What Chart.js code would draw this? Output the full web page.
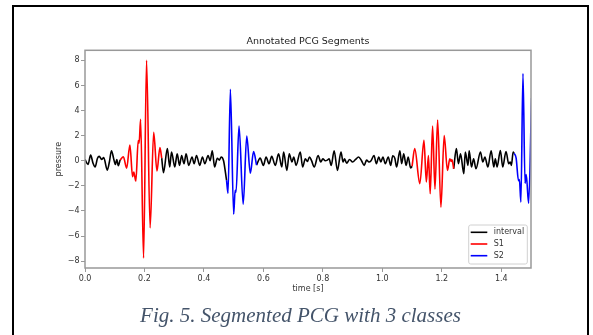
<!DOCTYPE html>
<html>
<head>
<meta charset="utf-8">
<script src="https://cdn.jsdelivr.net/npm/chart.js@4.4.1/dist/chart.umd.min.js"></script>
<style>
  html, body { margin: 0; padding: 0; background: #fff; }
  #wrap { position: relative; width: 593px; height: 335px; overflow: hidden; }
  #frame { position: absolute; left: 12px; top: 5px; width: 573px; height: 340px; border: 2px solid #000; }
  #pcg { position: absolute; left: 0; top: 0; }
  #caption { position: absolute; left: 0; top: 305px; width: 601px; text-align: center;
    font: italic 21px "Liberation Serif", "Times New Roman", serif; line-height: 21px; color: #44546a; }
</style>
</head>
<body>
<div id="wrap">
  <div id="frame"></div>
  <canvas id="pcg" width="593" height="335"></canvas>
  <div id="caption">Fig. 5. Segmented PCG with 3 classes</div>
</div>
<script>
// signal: time [s] and pressure at each turning point
const signalT = [
  0.000,0.010,0.019,0.027,0.034,0.042,0.048,0.056,0.063,0.075,0.082,0.089,0.097,0.102,0.107,0.112,0.118,
  0.129,0.140,0.151,0.160,0.164,0.171,0.179,0.182,0.187,0.197,0.207,0.219,0.231,0.242,0.252,0.258,
  0.264,0.277,0.285,0.291,0.302,0.310,0.318,0.325,0.333,0.340,0.349,0.360,0.367,0.375,0.386,0.395,0.403,0.414,0.421,0.428,0.436,0.445,0.452,0.458,0.466,0.476,
  0.481,0.489,0.500,0.505,0.508,0.518,0.532,0.544,0.556,0.567,0.577,
  0.589,0.600,0.609,0.619,0.628,0.640,0.651,0.662,0.668,0.679,0.687,0.696,0.702,0.710,0.724,0.732,0.741,0.748,
  0.755,0.762,0.771,0.784,0.793,0.800,0.808,0.815,0.821,0.828,0.838,0.849,0.861,0.868,0.873,0.880,0.890,0.900,
  0.910,0.920,0.930,0.939,0.947,0.955,0.962,0.972,0.980,0.988,0.995,1.002,1.010,1.020,1.028,1.035,1.042,1.048,
  1.059,1.065,1.072,1.080,1.087,1.095,1.100,
  1.109,1.126,1.140,1.148,1.155,1.161,1.169,1.177,1.186,1.197,1.208,1.219,1.227,1.231,1.234,1.240,
  1.249,1.256,1.263,1.274,1.279,1.288,1.292,1.300,1.307,1.315,1.330,1.338,1.345,1.355,1.366,1.375,1.380,1.386,
  1.397,1.405,1.416,1.425,1.430,1.434,1.440,1.443,
  1.450,1.458,1.461,1.466,1.473,1.480,1.484,1.492,1.502
];
const signalV = [
  0.10,-0.30,0.45,-0.20,-0.50,0.20,0.35,0.10,0.25,-0.75,-0.10,0.80,0.10,-0.30,0.10,-0.40,0.05,
  0.32,-0.60,1.25,-1.27,-0.90,-1.62,1.60,1.40,3.30,-7.75,8.00,-5.35,2.26,-0.82,1.04,0.20,
  -0.95,0.96,-0.50,0.70,-0.50,0.55,-0.37,0.42,-0.24,0.55,-0.37,0.30,-0.24,0.42,-0.37,0.30,-0.24,0.42,0.00,0.80,-0.50,0.20,0.05,0.30,0.00,-1.55,
  -2.60,5.70,-4.27,-2.35,-2.50,2.76,-3.47,1.97,-1.00,0.73,-0.35,
  0.21,-0.37,0.29,-0.24,0.35,-0.37,0.56,-0.50,0.69,-0.77,0.56,-0.10,0.30,-0.37,0.69,-0.50,0.15,-0.05,
  0.30,0.00,-0.50,0.42,-0.10,0.15,0.00,0.05,0.15,-0.37,0.80,-0.77,0.69,-0.10,0.15,-0.20,0.10,-0.10,
  0.10,0.30,0.00,-0.37,0.05,-0.10,0.00,0.42,-0.24,0.30,-0.10,0.30,-0.24,0.30,-0.37,0.40,0.20,-0.50,
  0.80,-0.24,0.56,-0.37,0.30,-0.58,-0.45,
  0.96,-1.83,1.62,-1.70,0.42,-2.63,2.76,-2.26,3.25,-3.70,2.00,-0.77,0.15,-0.05,0.10,-0.64,
  0.96,-0.24,0.56,-1.03,0.69,-0.37,0.80,-0.50,0.15,-0.64,0.69,-0.10,0.30,-0.50,0.80,-0.50,0.15,-0.50,
  0.82,-0.50,0.74,-0.24,-0.10,-0.37,0.69,0.60,
  0.20,-1.60,-1.50,-3.30,6.95,-1.80,-1.10,-3.40,5.00
];
// segment boundaries (s) and the class of each segment
const segEdges = [0.118, 0.258, 0.476, 0.577, 1.100, 1.240, 1.443];
const segClass = ["interval","S1","interval","S2","interval","S1","interval","S2"];
const classNames = ["interval","S1","S2"];
const classColor = {interval:"#000000", S1:"#ff0000", S2:"#0000ff"};
const xTicks = [0.0,0.2,0.4,0.6,0.8,1.0,1.2,1.4];
const yTicks = [-8,-6,-4,-2,0,2,4,6,8];

const datasets = [];
let lo = -Infinity;
segClass.forEach((cls,i)=>{
  const hi = i < segEdges.length ? segEdges[i] : Infinity;
  const pts = [];
  signalT.forEach((t,k)=>{ if(t>=lo && t<=hi) pts.push({x:t,y:signalV[k]}); });
  datasets.push({label:cls,data:pts,borderColor:classColor[cls],borderWidth:1.6,pointRadius:0,
    cubicInterpolationMode:"monotone",fill:false});
  lo = hi;
});

const axisGrey = "#999999";
const tickFont = {family:"DejaVu Sans",size:8};

const framePlugin = {
  id:"frame",
  afterLayout(chart){
    // centre the title over the axes, like matplotlib does
    const t = chart.titleBlock, a = chart.chartArea;
    if(t){ t.left = a.left; t.right = a.right; }
  },
  afterDraw(chart){
    const {ctx,chartArea:a} = chart;
    ctx.save();
    ctx.strokeStyle = axisGrey;
    ctx.lineWidth = 1.5;
    ctx.strokeRect(a.left,a.top,a.right-a.left,a.bottom-a.top);
    // legend, bottom right inside the axes
    const w = 58.6, h = 39, x0 = a.right-3.7-w, y0 = a.bottom-4-h;
    ctx.fillStyle = "rgba(255,255,255,0.85)";
    ctx.strokeStyle = "#d0d0d0";
    ctx.lineWidth = 1;
    ctx.beginPath();
    ctx.roundRect(x0,y0,w,h,2);
    ctx.fill(); ctx.stroke();
    ctx.font = "8px 'DejaVu Sans'";
    ctx.textBaseline = "middle";
    classNames.forEach((c,i)=>{
      const y = y0+7.3+i*11.7;
      ctx.strokeStyle = classColor[c];
      ctx.lineWidth = 1.6;
      ctx.beginPath(); ctx.moveTo(x0+2,y); ctx.lineTo(x0+18.6,y); ctx.stroke();
      ctx.fillStyle = "#333";
      ctx.fillText(c,x0+25,y);
    });
    ctx.restore();
  }
};

new Chart(document.getElementById("pcg"),{
  type:"line",
  data:{datasets},
  options:{
    responsive:false,
    animation:false,
    layout:{padding:{left:0,right:62,top:0,bottom:37}},
    plugins:{
      legend:{display:false},
      tooltip:{enabled:false},
      title:{display:true,text:"Annotated PCG Segments",color:"#222",
        font:{family:"DejaVu Sans",size:9.5,weight:"normal"},padding:{top:36.3,bottom:2.6}}
    },
    scales:{
      x:{type:"linear",min:0,max:1.5,
        afterBuildTicks:s=>{s.ticks = xTicks.map(v=>({value:v}));},
        afterFit:s=>{s.height = 30;},
        border:{display:false},
        grid:{drawOnChartArea:false,drawTicks:true,tickLength:4,color:axisGrey},
        ticks:{font:tickFont,color:"#333",padding:2,maxRotation:0,callback:v=>v.toFixed(1)},
        title:{display:true,text:"time [s]",color:"#333",font:tickFont,padding:{top:0,bottom:4.2}}
      },
      y:{min:-8.55,max:8.8,
        afterBuildTicks:s=>{s.ticks = yTicks.map(v=>({value:v}));},
        afterFit:s=>{s.width = 85;},
        border:{display:false},
        grid:{drawOnChartArea:false,drawTicks:true,tickLength:4,color:axisGrey},
        ticks:{font:tickFont,color:"#333",padding:1.5,callback:v=>String(v).replace("-","\u2212")},
        title:{display:true,text:"pressure",color:"#333",font:tickFont,padding:{top:54,bottom:0}}
      }
    }
  },
  plugins:[framePlugin]
});
</script>
</body>
</html>
